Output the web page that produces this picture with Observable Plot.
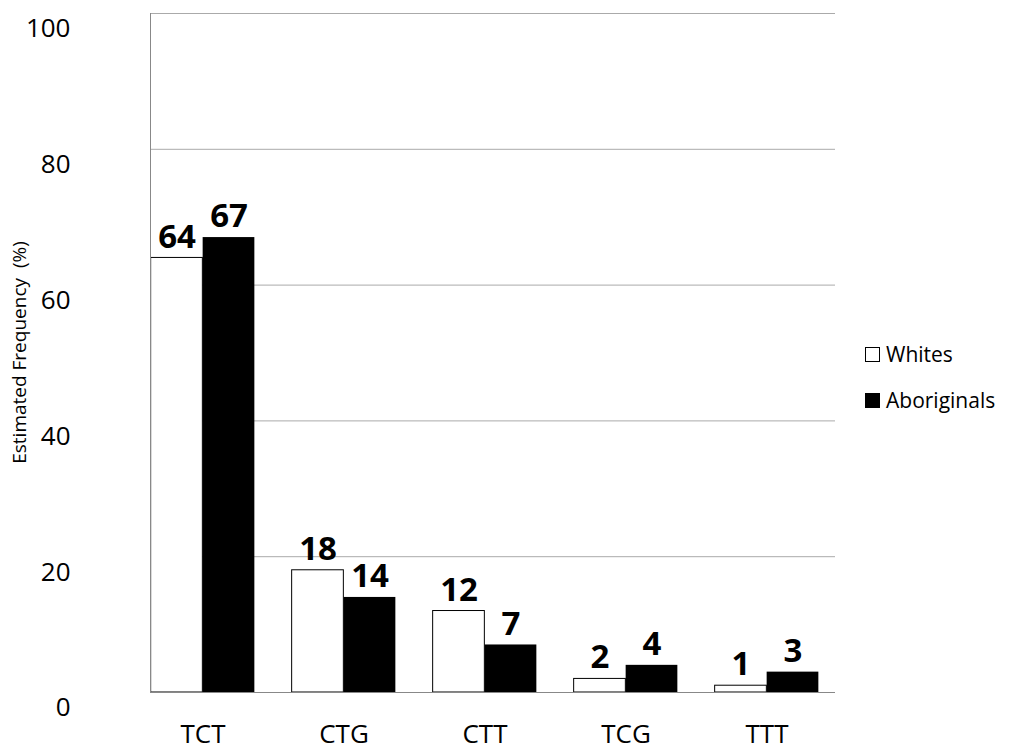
<!DOCTYPE html>
<html><head><meta charset="utf-8">
<script src="https://cdn.jsdelivr.net/npm/d3@7"></script>
<script src="https://cdn.jsdelivr.net/npm/@observablehq/plot@0.6"></script>
<style>
body{margin:0;background:#fff;font-family:"Open Sans",Calibri,sans-serif}
#wrap{position:relative;width:1024px;height:755px}
.leg{position:absolute;left:865px;font-size:21px;display:flex;align-items:center}
.sw{width:15px;height:15px;border:1px solid #000;margin-right:6px;box-sizing:border-box}
</style></head><body>
<div id="wrap"></div>
<script>
const categories=["TCT","CTG","CTT","TCG","TTT"];
const whites=[64,18,12,2,1];
const aboriginals=[67,14,7,4,3];
const yTicks=[0,20,40,60,80,100];
const W=categories.map((c,i)=>({c,v:whites[i]}));
const A=categories.map((c,i)=>({c,v:aboriginals[i]}));
const plot=Plot.plot({
  width:1024,height:755,marginLeft:150,marginRight:189,marginTop:13,marginBottom:63,
  style:{fontFamily:"'Open Sans',sans-serif",fontSize:"26px",background:"#fff"},
  x:{domain:categories,padding:0,range:[131.35,837.85],label:null,tickSize:0,tickPadding:32},
  y:{domain:[0,100],ticks:yTicks,label:"Estimated Frequency  (%)",labelAnchor:"center",labelArrow:"none",tickSize:0,tickPadding:80},
  marks:[
    Plot.gridY(yTicks,{stroke:"#aaa",strokeOpacity:1}),
    Plot.barY(W,{x:"c",y:"v",fill:"#fff",stroke:"#000",strokeWidth:1,insetLeft:18.65,insetRight:70.65}),
    Plot.barY(A,{x:"c",y:"v",fill:"#000",insetLeft:70.65,insetRight:18.65}),
    Plot.text(W,{x:"c",y:"v",text:d=>String(d.v),dx:-26,dy:-21,fontSize:33,fontWeight:"bold",fill:"#000"}),
    Plot.text(A,{x:"c",y:"v",text:d=>String(d.v),dx:26,dy:-21,fontSize:33,fontWeight:"bold",fill:"#000"})
  ]
});
const wrap=document.getElementById("wrap");
wrap.appendChild(plot);
const s=d3.select(plot);
s.selectAll("g[aria-label='y-axis label'] text").style("font-size","19px");
s.select("g[aria-label='y-axis label']").attr("transform","translate(-138,0)");
s.selectAll("g[aria-label='y-axis tick label'] text").attr("dy","0.6em");
s.append("line").attr("x1",150.5).attr("x2",150.5).attr("y1",13).attr("y2",692).attr("stroke","#888");
s.append("line").attr("x1",150).attr("x2",835).attr("y1",692.5).attr("y2",692.5).attr("stroke","#888");
wrap.insertAdjacentHTML("beforeend",'<div class="leg" style="top:340px"><div class="sw" style="background:#fff"></div>Whites</div><div class="leg" style="top:386px"><div class="sw" style="background:#000"></div>Aboriginals</div>');
</script></body></html>
